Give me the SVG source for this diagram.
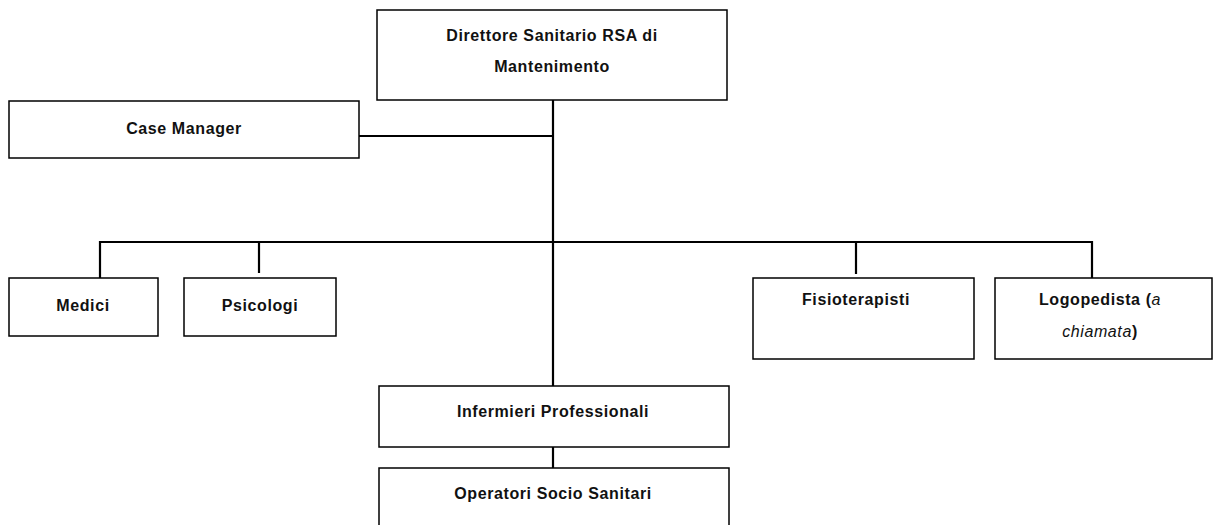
<svg xmlns="http://www.w3.org/2000/svg" width="1217" height="525" viewBox="0 0 1217 525">
<style>
.box{fill:#fff;stroke:#000;stroke-width:1.5}
.t{font-family:"Liberation Sans",Arial,sans-serif;font-weight:bold;font-size:16px;letter-spacing:0.6px;fill:#111;text-anchor:middle}
.i{font-style:italic;font-weight:normal}
.c{fill:none;stroke:#000;stroke-width:2.2}
</style>
<rect width="1217" height="525" fill="#fff"/>
<g id="connectors">
<path class="c" d="M553 100 V387"/>
<path class="c" d="M359 136 H553"/>
<path class="c" d="M100 278 V242 H1092 V278"/>
<path class="c" d="M259 242 V273"/>
<path class="c" d="M856 242 V274"/>
<path class="c" d="M553 447 V468"/>
</g>
<g id="direttore">
<rect class="box" x="377" y="10" width="350" height="90"/>
<text class="t" x="552" y="41">Direttore Sanitario RSA di</text>
<text class="t" x="552" y="72">Mantenimento</text>
</g>
<g id="case-manager">
<rect class="box" x="9" y="101" width="350" height="57"/>
<text class="t" x="184" y="134">Case Manager</text>
</g>
<g id="medici">
<rect class="box" x="9" y="278" width="149" height="58"/>
<text class="t" x="83" y="311">Medici</text>
</g>
<g id="psicologi">
<rect class="box" x="184" y="278" width="152" height="58"/>
<text class="t" x="260" y="311">Psicologi</text>
</g>
<g id="fisioterapisti">
<rect class="box" x="753" y="278" width="221" height="81"/>
<text class="t" x="856" y="305">Fisioterapisti</text>
</g>
<g id="logopedista">
<rect class="box" x="995" y="278" width="217" height="81"/>
<text class="t" x="1100" y="305">Logopedista (<tspan class="i">a</tspan></text>
<text class="t" x="1100" y="337"><tspan class="i">chiamata</tspan>)</text>
</g>
<g id="infermieri">
<rect class="box" x="379" y="386" width="350" height="61"/>
<text class="t" x="553" y="417">Infermieri Professionali</text>
</g>
<g id="operatori">
<rect class="box" x="379" y="468" width="350" height="70"/>
<text class="t" x="553" y="499">Operatori Socio Sanitari</text>
</g>
</svg>
